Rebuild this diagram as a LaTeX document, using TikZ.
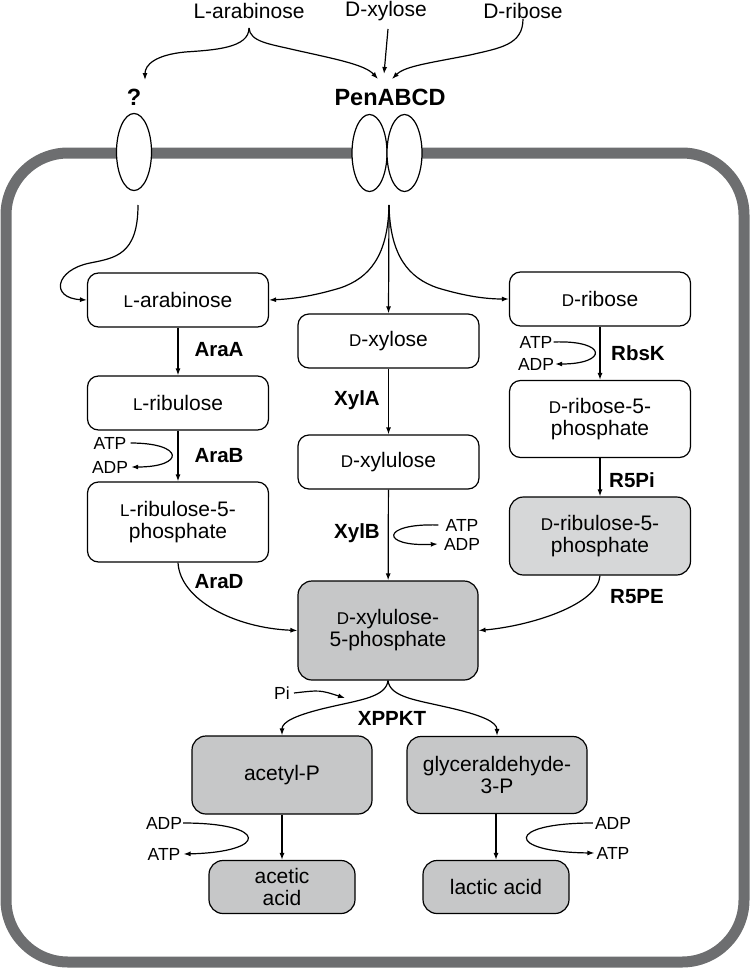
\documentclass[tikz,border=0pt]{standalone}
\usepackage{fontspec}
\setmainfont{Liberation Sans}
\usetikzlibrary{arrows.meta,shapes.geometric}
\definecolor{membc}{RGB}{109,110,112}
\definecolor{darkfill}{RGB}{198,199,200}
\definecolor{lightfill}{RGB}{214,215,216}
\newcommand\smc[1]{{\fontsize{17}{17}\selectfont #1}}
\tikzset{
  mbox/.style={draw, line width=1.2pt, rounded corners=11pt, minimum width=181pt, minimum height=54pt, align=center, inner sep=0pt, font=\fontsize{21}{22}\selectfont},
  dbox/.style={mbox, fill=darkfill, rounded corners=14pt},
  lbox/.style={mbox, fill=lightfill, rounded corners=14pt},
  enz/.style={inner sep=0pt, font=\fontsize{20.5}{21}\selectfont\bfseries},
  cof/.style={inner sep=0pt, font=\fontsize{17.5}{18}\selectfont},
  toplab/.style={inner sep=0pt, font=\fontsize{21}{22}\selectfont},
  arr/.style={line width=1.2pt, -{Latex[length=7pt,width=5pt]}},
  memb/.style={draw=membc, line width=11pt, rounded corners=62pt},
  chan/.style={ellipse, draw, fill=white, line width=1.2pt, minimum width=35pt, minimum height=77pt, inner sep=0pt}
}
\begin{document}
\begin{tikzpicture}[x=1pt,y=1pt]
\useasboundingbox (0,0) rectangle (750,-969);
% membrane
\draw[memb] (6,-153) rectangle (744,-962);
% channels
\node[chan] (q) at (134,-152) {};
\node[chan] (pa) at (369.5,-153) {};
\node[chan] (pb) at (404.5,-153) {};
\node[inner sep=0pt, font=\fontsize{23.5}{24}\selectfont\bfseries] (qlab) at (134,-97) {?};
\node[inner sep=0pt, font=\fontsize{23.5}{24}\selectfont\bfseries] (penlab) at (390,-97) {PenABCD};
% top sugars
\node[toplab] (tara) at (249,-11) {L-arabinose};
\node[toplab] (txyl) at (386,-11) {D-xylose};
\node[toplab] (trib) at (523,-11) {D-ribose};
\coordinate (brace) at (249,-28);
\coordinate (qin) at (145,-80);
\coordinate (pin1) at (378,-79);
\coordinate (pin2) at (384,-74);
\coordinate (pin3) at (392,-79);
\draw[arr] (brace) .. controls (249,-48) and (215,-50) .. (185,-52) .. controls (155,-55) and (145,-65) .. (qin);
\draw[arr] (brace) .. controls (250,-42) and (270,-44) .. (295,-50) .. controls (340,-60) and (365,-65) .. (pin1);
\draw[arr] (txyl.south)++(2,-8) -- (pin2);
\draw[arr] (trib.south) .. controls (523,-45) and (500,-48) .. (470,-55) .. controls (430,-63) and (405,-66) .. (pin3);
% boxes
\node[mbox] (abox) at (178,-300) {\smc{L}-arabinose};
\node[mbox] (rbox) at (178,-403) {\smc{L}-ribulose};
\node[mbox, minimum height=80pt] (r5p) at (178,-522) {\smc{L}-ribulose-5-\\phosphate};
\node[mbox] (xbox) at (388.5,-341) {\smc{D}-xylose};
\node[mbox] (xu) at (388.5,-462) {\smc{D}-xylulose};
\node[dbox, minimum width=180pt, minimum height=99pt] (x5p) at (388,-630.5) {\smc{D}-xylulose-\\5-phosphate};
\node[mbox] (db) at (600,-299) {\smc{D}-ribose};
\node[mbox, minimum height=77pt] (d5p) at (600,-419) {\smc{D}-ribose-5-\\phosphate};
\node[lbox, minimum height=78pt] (du5p) at (600,-536) {\smc{D}-ribulose-5-\\phosphate};
\node[dbox, minimum width=180pt, minimum height=78pt] (ap) at (282,-775) {acetyl-P};
\node[dbox, minimum width=146pt, minimum height=53pt] (aa) at (282,-887) {acetic\\acid};
\node[dbox, minimum width=180pt, minimum height=77pt] (gp) at (497,-775) {glyceraldehyde-\\3-P};
\node[dbox, minimum width=146pt, minimum height=53pt] (la) at (496,-887) {lactic acid};
% entry arrows
\coordinate (qout) at (138,-205);
\coordinate (penout) at (389,-205);
\draw[arr] (qout) .. controls (138,-255) and (115,-258) .. (90,-263) .. controls (55,-270) and (50,-298) .. (abox.west);
\draw[arr] (penout) .. controls (388,-255) and (370,-278) .. (340,-288) .. controls (310,-297) and (290,-299) .. (abox.east);
\draw[arr] (penout) -- (xbox.north);
\draw[arr] (penout) .. controls (390,-255) and (408,-278) .. (438,-288) .. controls (468,-297) and (488,-299) .. (db.west);
% pathway arrows
\draw[arr] (abox) -- (rbox);
\draw[arr] (rbox) -- (r5p);
\draw[arr] (xbox) -- (xu);
\draw[arr] (xu) -- (x5p);
\draw[arr] (db) -- (d5p);
\draw[arr] (d5p) -- (du5p);
\draw[arr] (ap) -- (aa);
\draw[arr] (gp.south -| la.north) -- (la.north);
\draw[arr] (r5p.south) .. controls (180,-600) and (235,-628) .. (x5p.west);
\draw[arr] (du5p.south) .. controls (598,-605) and (530,-626) .. (x5p.east);
\draw[arr] (x5p.south) .. controls (386,-697) and (360,-700) .. (330,-707) .. controls (295,-715) and (282,-722) .. (ap.north);
\draw[arr] (x5p.south) .. controls (390,-697) and (416,-700) .. (446,-707) .. controls (482,-715) and (497,-722) .. (gp.north);
% enzymes
\node[enz] (araA) at (219,-350) {AraA};
\node[enz] (araB) at (219,-456) {AraB};
\node[enz] (araD) at (219,-582) {AraD};
\node[enz] (xylA) at (357,-400) {XylA};
\node[enz] (xylB) at (357,-533) {XylB};
\node[enz] (rbsK) at (638,-353) {RbsK};
\node[enz] (r5pi) at (632,-480) {R5Pi};
\node[enz] (r5pe) at (637,-597) {R5PE};
\node[enz] (xppkt) at (392,-718) {XPPKT};
% cofactors
\node[cof] (atp1) at (110,-443) {ATP};
\node[cof] (adp1) at (110,-467) {ADP};
\draw[arr] ([xshift=4pt]atp1.east) .. controls (185,-443) and (185,-467) .. ([xshift=3pt]adp1.east);
\node[cof] (atp2) at (536,-342) {ATP};
\node[cof] (adp2) at (536,-364) {ADP};
\draw[arr] ([xshift=1pt]atp2.east) .. controls (608,-340) and (608,-364) .. ([xshift=1pt]adp2.east);
\node[cof] (atp3) at (462,-525) {ATP};
\node[cof] (adp3) at (462,-544) {ADP};
\draw[arr] ([xshift=-7pt]atp3.west) .. controls (380,-523) and (380,-547) .. ([xshift=-6pt]adp3.west);
\node[cof] (adp4) at (164,-823) {ADP};
\node[cof] (atp4) at (164,-854) {ATP};
\draw[arr] ([xshift=1pt]adp4.east) .. controls (269,-823) and (269,-852) .. ([xshift=3pt]atp4.east);
\node[cof] (adp5) at (613,-823) {ADP};
\node[cof] (atp5) at (613,-853) {ATP};
\draw[arr] ([xshift=-2pt]adp5.west) .. controls (505,-823) and (505,-852) .. ([xshift=-2pt]atp5.west);
\node[cof] (pi) at (282,-693) {Pi};
\coordinate (piend) at (345,-698);
\draw[arr] ([xshift=4pt]pi.east) .. controls (320,-690) .. (piend);
\end{tikzpicture}
\end{document}
